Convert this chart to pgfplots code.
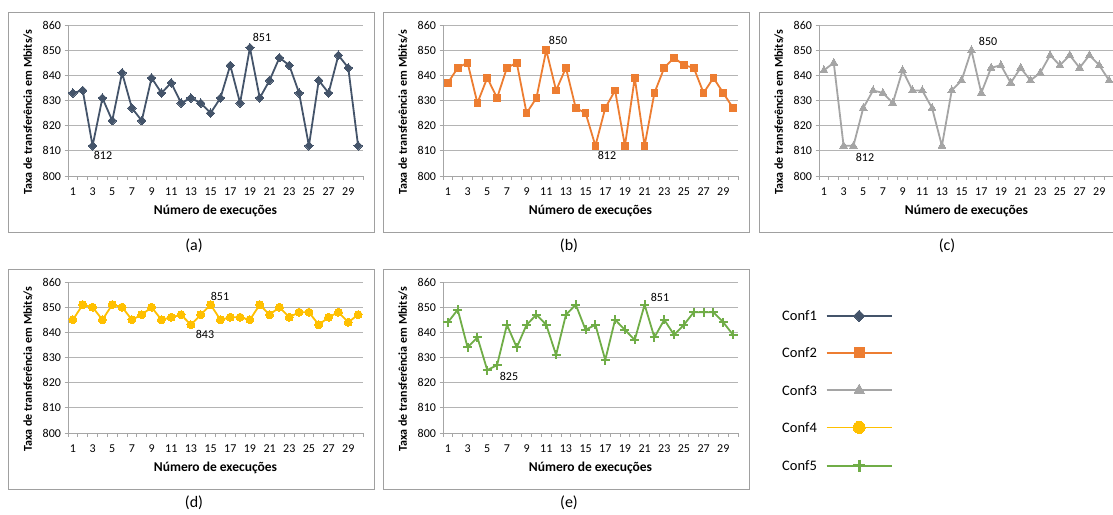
\documentclass[border=0pt]{standalone}
\usepackage{fontspec}
\setmainfont{Carlito}
\usepackage{pgfplots}
\pgfplotsset{compat=1.18}
\definecolor{confA}{HTML}{44546A}
\definecolor{confB}{HTML}{ED7D31}
\definecolor{confC}{HTML}{A5A5A5}
\definecolor{confD}{HTML}{FFC000}
\definecolor{confE}{HTML}{70AD47}
\definecolor{gridcol}{HTML}{B4B4B4}
\definecolor{axiscol}{HTML}{A6A6A6}
\definecolor{framecol}{HTML}{A0A0A0}

\tikzset{lab/.style={font=\fontsize{12}{14}\selectfont,anchor=center}}
\pgfplotsset{
 panel/.style={scale only axis,width=295pt,height=151pt,anchor=south west,
  xmin=0.5,xmax=30.5,ymin=800,ymax=860,clip=false,
  axis lines=left,axis line style={-,draw=axiscol,line width=0.8pt},
  ytick={800,810,...,860},ymajorgrids,grid style={gridcol,line width=0.8pt},
  xtick={0.5,1.5,...,30.5},xticklabels={},
  extra x ticks={1,3,...,29},
  extra x tick style={major tick length=0pt,grid=none,xticklabel style={anchor=center,yshift=-16pt}},
  tick align=outside,major tick length=3.5pt,tick style={axiscol,line width=0.8pt},
  ticklabel style={font=\fontsize{12}{14}\selectfont},
  /pgf/number format/assume math mode=true,
  ylabel={Taxa de transferência em Mbits/s},xlabel={Número de execuções},
  ylabel style={font=\bfseries\fontsize{12}{14}\selectfont,at={(axis description cs:-0.136,0.424)},anchor=center},
  xlabel style={font=\bfseries\fontsize{13.5}{16}\selectfont,at={(axis description cs:0.5,-0.232)},anchor=center}},
 sA/.style={confA,line width=1.8pt,line join=round,mark=square*,mark size=3pt,mark options={rotate=45,solid,line width=0pt}},
 sB/.style={confB,line width=1.8pt,line join=round,mark=square*,mark size=3.3pt,mark options={solid,line width=0pt}},
 sC/.style={confC,line width=1.8pt,line join=round,mark=triangle*,mark size=4.5pt,mark options={solid,line width=0pt}},
 sD/.style={confD,line width=1.8pt,line join=round,mark=*,mark size=4pt,mark options={solid,line width=0pt}},
 sE/.style={confE,line width=1.8pt,line join=round,mark=+,mark size=4.5pt,mark options={solid,line width=2pt}}
}

\begin{document}
\begin{tikzpicture}
\useasboundingbox (0pt,0pt) rectangle (1113pt,-514pt);
\fill[white] (0pt,0pt) rectangle (1113pt,-514pt);

% panel frames
\draw[framecol,line width=1pt] (8pt,-12pt) rectangle (374pt,-232pt);
\draw[framecol,line width=1pt] (383pt,-12pt) rectangle (749pt,-232pt);
\draw[framecol,line width=1pt] (759pt,-12pt) rectangle (1125pt,-232pt);
\draw[framecol,line width=1pt] (8pt,-269pt) rectangle (374pt,-489pt);
\draw[framecol,line width=1pt] (383pt,-269pt) rectangle (749pt,-489pt);

\begin{axis}[panel,at={(68pt,-176pt)}]
\addplot[sA] coordinates {(1,833)(2,834)(3,812)(4,831)(5,822)(6,841)(7,827)(8,822)(9,839)(10,833)(11,837)(12,829)(13,831)(14,829)(15,825)(16,831)(17,844)(18,829)(19,851)(20,831)(21,838)(22,847)(23,844)(24,833)(25,812)(26,838)(27,833)(28,848)(29,843)(30,812)};
\node[lab] at (axis cs:20.23,855.2) {851};
\node[lab] at (axis cs:4.06,808.3) {812};
\end{axis}

\begin{axis}[panel,at={(443pt,-176pt)}]
\addplot[sB] coordinates {(1,837)(2,843)(3,845)(4,829)(5,839)(6,831)(7,843)(8,845)(9,825)(10,831)(11,850)(12,834)(13,843)(14,827)(15,825)(16,812)(17,827)(18,834)(19,812)(20,839)(21,812)(22,833)(23,843)(24,847)(25,844)(26,843)(27,833)(28,839)(29,833)(30,827)};
\node[lab] at (axis cs:12.2,854.0) {850};
\node[lab] at (axis cs:17.18,808.3) {812};
\end{axis}

\begin{axis}[panel,at={(819pt,-176pt)}]
\addplot[sC] coordinates {(1,842)(2,845)(3,812)(4,812)(5,827)(6,834)(7,833)(8,829)(9,842)(10,834)(11,834)(12,827)(13,812)(14,834)(15,838)(16,850)(17,833)(18,843)(19,844)(20,837)(21,843)(22,838)(23,841)(24,848)(25,844)(26,848)(27,843)(28,848)(29,844)(30,838)};
\node[lab] at (axis cs:17.69,853.6) {850};
\node[lab] at (axis cs:5.18,807.2) {812};
\end{axis}

\begin{axis}[panel,at={(68pt,-433pt)}]
\addplot[sD] coordinates {(1,845)(2,851)(3,850)(4,845)(5,851)(6,850)(7,845)(8,847)(9,850)(10,845)(11,846)(12,847)(13,843)(14,847)(15,851)(16,845)(17,846)(18,846)(19,845)(20,851)(21,847)(22,850)(23,846)(24,848)(25,848)(26,843)(27,846)(28,848)(29,844)(30,847)};
\node[lab] at (axis cs:15.96,854.4) {851};
\node[lab] at (axis cs:14.43,839.3) {843};
\end{axis}

\begin{axis}[panel,at={(443pt,-433pt)}]
\addplot[sE] coordinates {(1,844)(2,849)(3,834)(4,838)(5,825)(6,827)(7,843)(8,834)(9,843)(10,847)(11,843)(12,831)(13,847)(14,851)(15,841)(16,843)(17,829)(18,845)(19,841)(20,837)(21,851)(22,838)(23,845)(24,839)(25,843)(26,848)(27,848)(28,848)(29,844)(30,839)};
\node[lab] at (axis cs:22.57,854.0) {851};
\node[lab] at (axis cs:7.21,822.6) {825};
\end{axis}

% legend
\begin{axis}[at={(0pt,0pt)},anchor=north west,scale only axis,width=1113pt,height=514pt,
 hide axis,xmin=0,xmax=1113,ymin=0,ymax=514,y dir=reverse,
 legend plot pos=right,
 legend style={at={(axis cs:782,310)},anchor=north west,draw=none,fill=none,inner sep=0pt,
  font=\fontsize{14.5}{17}\selectfont,row sep=26.3pt,column sep=9pt,
  nodes={inner sep=0pt,text height=10pt,text depth=0pt}},
 legend image code/.code={\draw[mark repeat=2,mark phase=2,#1] plot coordinates {(0pt,0pt)(32.5pt,0pt)(65pt,0pt)};}]
\addlegendimage{sA,line width=1.6pt,mark size=4pt}
\addlegendentry{Conf1}
\addlegendimage{sB,line width=1.6pt,mark size=5pt}
\addlegendentry{Conf2}
\addlegendimage{sC,line width=1.6pt,mark size=6pt}
\addlegendentry{Conf3}
\addlegendimage{sD,line width=1.6pt,mark size=6pt}
\addlegendentry{Conf4}
\addlegendimage{sE,line width=1.6pt,mark size=6pt,mark options={solid,line width=3pt}}
\addlegendentry{Conf5}
\end{axis}

\node[font=\fontsize{16}{19}\selectfont] at (194pt,-246pt) {(a)};
\node[font=\fontsize{16}{19}\selectfont] at (569pt,-246pt) {(b)};
\node[font=\fontsize{16}{19}\selectfont] at (947pt,-246pt) {(c)};
\node[font=\fontsize{16}{19}\selectfont] at (194pt,-503pt) {(d)};
\node[font=\fontsize{16}{19}\selectfont] at (569pt,-503pt) {(e)};
\end{tikzpicture}
\end{document}
